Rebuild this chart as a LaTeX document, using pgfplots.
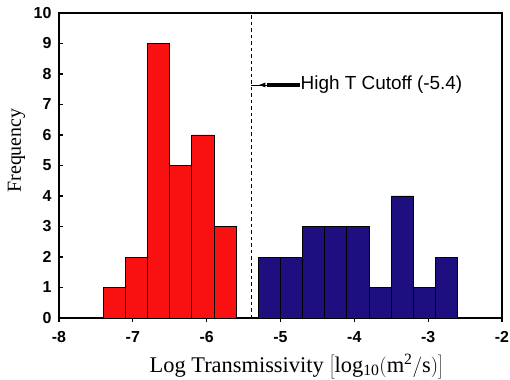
\documentclass[border=0pt]{standalone}
\usepackage{fontspec}
\setmainfont{Liberation Serif}
\newfontfamily\arialfont{Liberation Sans}
\usepackage{pgfplots}
\pgfplotsset{compat=1.18}
\usetikzlibrary{arrows.meta}
\definecolor{redbar}{HTML}{F91111}
\definecolor{bluebar}{HTML}{1D0F80}
\begin{document}
\begin{tikzpicture}
\path[use as bounding box] (-59bp,-62bp) rectangle (451bp,318bp);
\begin{axis}[
  at={(0,0)}, anchor=south west,
  scale only axis, width=443bp, height=305bp,
  xmin=-8, xmax=-2, ymin=0, ymax=10,
  xtick={-8,-7,...,-2}, ytick={0,1,...,10},
  axis line style={line width=1.8bp},
  tick style={black, line width=1.2bp},
  tick pos=left,
  xtick align=outside, ytick align=inside,
  major tick length=4bp,
  /pgf/number format/assume math mode=true,
  ticklabel style={font=\arialfont\bfseries\fontsize{16}{18}\selectfont},
  xticklabel style={yshift=-6bp},
  yticklabel style={xshift=-4bp},
  xlabel={Log Transmissivity $\left[\mathrm{log_{10}(m^{2}/s)}\right]$},
  ylabel={Frequency},
  xlabel style={font=\fontsize{22.5}{25}\selectfont, at={(0.5,0)}, anchor=base, yshift=-54bp, xshift=16bp},
  ylabel style={font=\fontsize{20}{23}\selectfont, at={(0,0.5)}, anchor=base, rotate=0, yshift=38bp, xshift=15bp},
]
\addplot[ybar interval, fill=redbar, draw=black, line width=0.9bp] coordinates {
(-7.4,1) (-7.1,2) (-6.8,9) (-6.5,5) (-6.2,6) (-5.9,3) (-5.6,3)};
\addplot[ybar interval, fill=bluebar, draw=black, line width=0.9bp] coordinates {
(-5.3,2) (-5.0,2) (-4.7,3) (-4.4,3) (-4.1,3) (-3.8,1) (-3.5,4) (-3.2,1) (-2.9,2) (-2.6,2)};
\addplot[black, line width=0.9bp, dash pattern=on 3.5bp off 3bp] coordinates {(-5.4,0) (-5.4,10)};
\addplot[black, line width=0.9bp] coordinates {(-5.4,7.64) (-5.2,7.64)};
\addplot[black, line width=4bp] coordinates {(-5.18,7.64) (-4.73,7.64)};
\addplot[black, line width=0.9bp, -{Latex[length=7bp,width=5bp]}] coordinates {(-5.1,7.64) (-5.3,7.64)};
\node[anchor=west, inner sep=0pt, font=\arialfont\fontsize{19}{21}\selectfont] at (axis cs:-4.73,7.64) {High T Cutoff (-5.4)};
\end{axis}
\end{tikzpicture}
\end{document}
